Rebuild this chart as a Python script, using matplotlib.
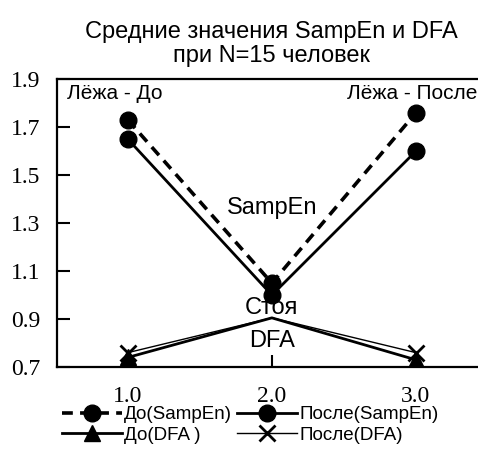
import matplotlib
matplotlib.use("Agg")
import matplotlib.pyplot as plt

# Data
x = [1.0, 2.0, 3.0]
do_sampen = [1.73, 1.05, 1.76]
posle_sampen = [1.65, 1.00, 1.60]
do_dfa = [0.74, 0.905, 0.73]
posle_dfa = [0.76, 0.905, 0.76]
yticks = [0.7, 0.9, 1.1, 1.3, 1.5, 1.7, 1.9]
xticks = [1.0, 2.0, 3.0]

sans = ['Liberation Sans', 'DejaVu Sans']
serif = ['Liberation Serif', 'DejaVu Serif']

fig = plt.figure(figsize=(4.78, 4.66), dpi=100)
ax = fig.add_axes([0.119, 0.2124, 0.9017, 0.6176])

l1, = ax.plot(x, do_sampen, 'k--', marker='o', markersize=12, linewidth=2.6, dashes=(3, 2),
              label='До(SampEn)')
l2, = ax.plot(x, posle_sampen, 'k-', marker='o', markersize=12, linewidth=2.0,
              label='После(SampEn)')
# middle DFA markers are hidden under the "Стоя"/"DFA" labels in the original
l3, = ax.plot(x, do_dfa, 'k-', marker='^', markersize=12, linewidth=2.0,
              markevery=[0, 2], label='До(DFA )')
l4, = ax.plot(x, posle_dfa, 'k-', marker='x', markersize=12, markeredgewidth=2,
              linewidth=1.0, markevery=[0, 2], label='После(DFA)')

ax.text(0.91, 1.84, 'Лёжа - До', ha='center', va='center', fontsize=15, family=sans)
ax.text(3.43, 1.84, 'Лёжа - После', ha='right', va='center', fontsize=15, family=sans)
ax.text(2.0, 1.365, 'SampEn', ha='center', va='center', fontsize=17, family=sans)
ax.text(2.0, 0.946, 'Стоя', ha='center', va='center', fontsize=17, family=sans)
ax.text(2.0, 0.808, 'DFA', ha='center', va='center', fontsize=17, family=sans)

ax.set_xlim(0.507, 3.5)
ax.set_ylim(0.7, 1.9)
ax.set_xticks(xticks)
ax.set_xticklabels([f"{v:.1f}" for v in xticks], family=serif, fontsize=17)
ax.set_yticks(yticks)
ax.set_yticklabels([f"{v:.1f}" for v in yticks], family=serif, fontsize=17)
ax.tick_params(direction='in', length=9, width=1.5)
ax.tick_params(axis='x', pad=14)
ax.tick_params(axis='y', pad=12)
for s in ax.spines.values():
    s.set_linewidth(1.6)

fig.text(0.568, 0.931, 'Средние значения SampEn и DFA', ha='center', va='center',
         fontsize=17, family=sans)
fig.text(0.568, 0.880, 'при N=15 человек', ha='center', va='center',
         fontsize=17, family=sans)

fig.legend([l1, l3, l2, l4], [l1.get_label(), l3.get_label(), l2.get_label(), l4.get_label()],
           loc='center', bbox_to_anchor=(0.523, 0.088), ncol=2, frameon=False,
           prop={'family': sans, 'size': 13.5}, handlelength=3.2, handletextpad=0.1,
           columnspacing=0.3, labelspacing=0.2)

fig.savefig('out.png', dpi=100)
